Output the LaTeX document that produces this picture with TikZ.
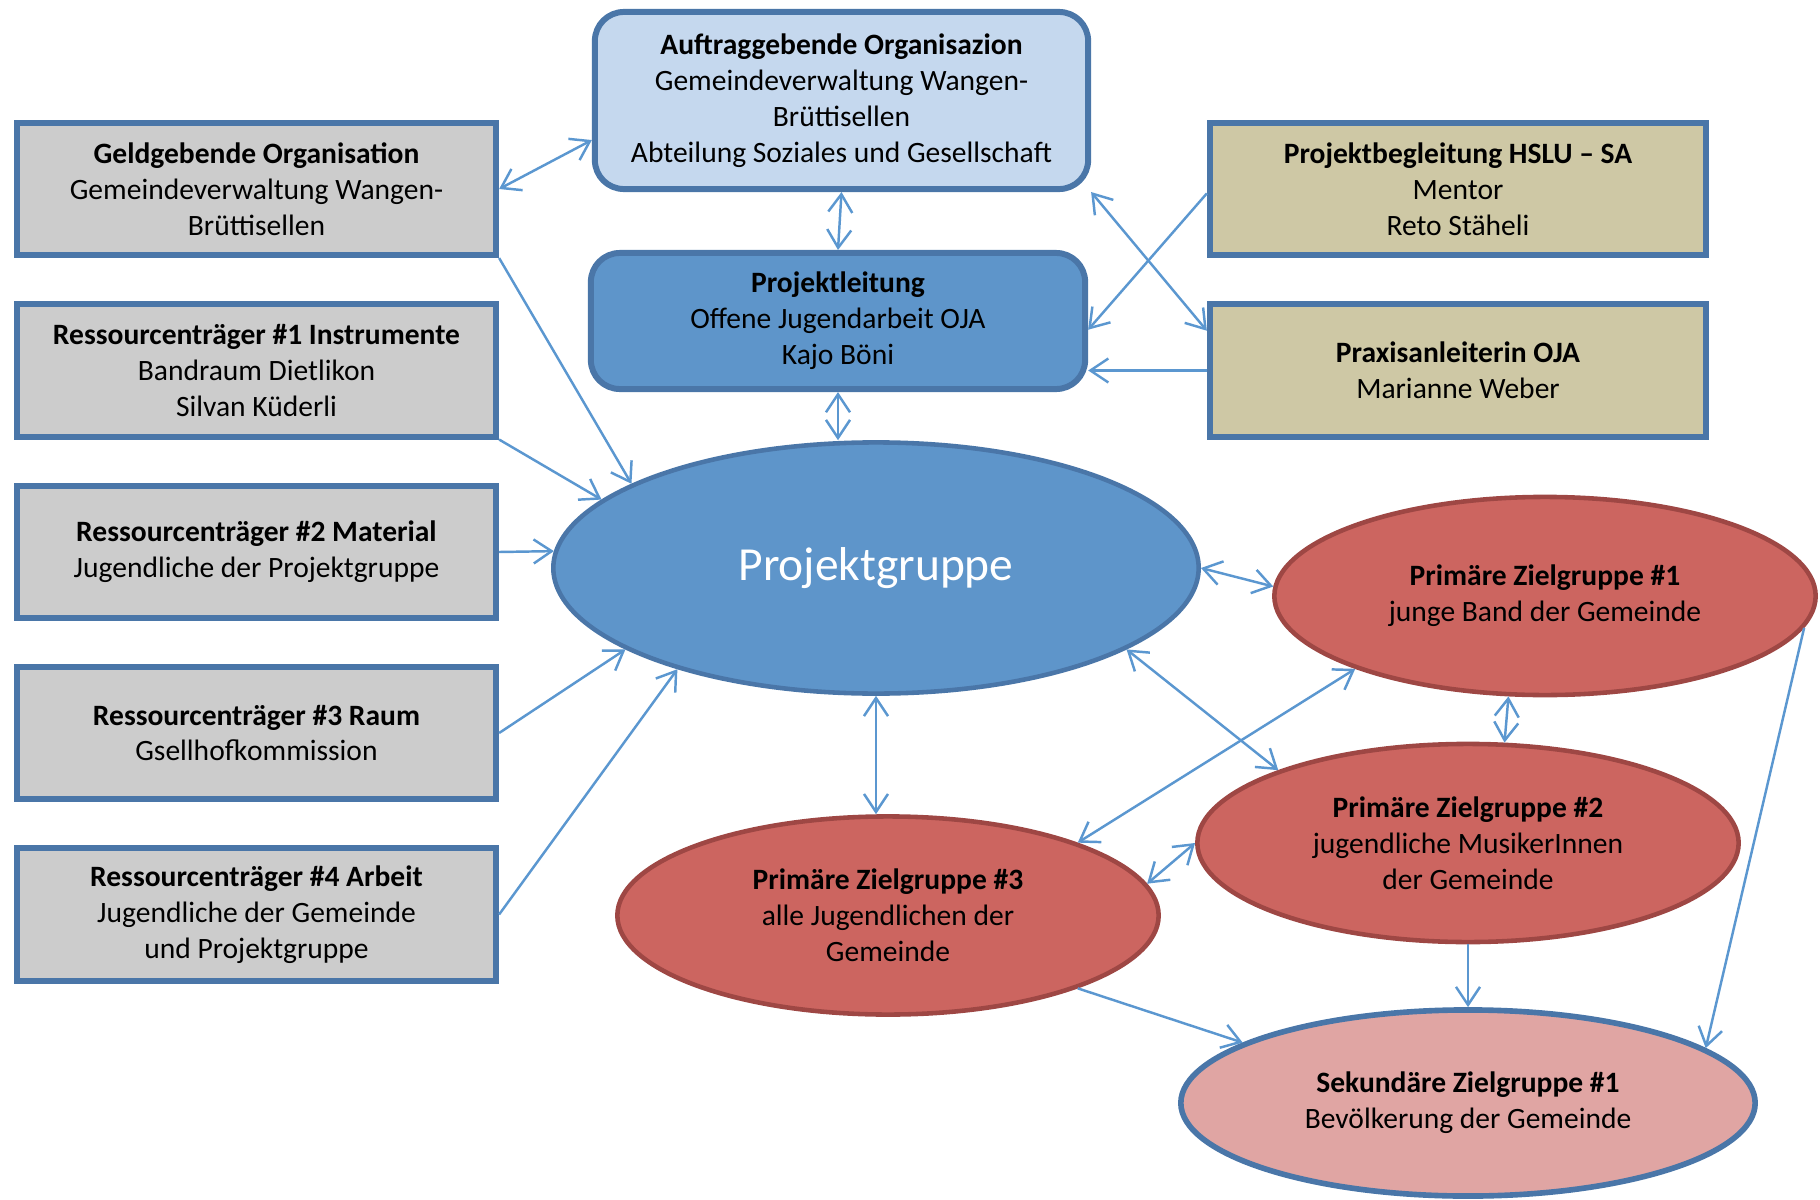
\documentclass[tikz,border=0pt]{standalone}
\usepackage{fontspec}
\setmainfont{Carlito}
\usepackage{xcolor}
\usepackage{tikz}
\usetikzlibrary{shapes.geometric,arrows.meta}
\definecolor{frameblue}{HTML}{4A76A8}
\definecolor{boxgray}{HTML}{CCCCCC}
\definecolor{boxtan}{HTML}{CEC8A5}
\definecolor{paleblue}{HTML}{C5D8EE}
\definecolor{midblue}{HTML}{5E95CA}
\definecolor{zielrot}{HTML}{CC6560}
\definecolor{zielrand}{HTML}{9E4744}
\definecolor{zielrosa}{HTML}{E0A5A3}
\definecolor{linkblue}{HTML}{5B97D0}

\begin{document}
\begin{tikzpicture}[x=0.01cm,y=-0.01cm,
    every node/.style={font=\fontsize{8.4}{10.2}\selectfont,align=center,inner sep=0pt},
    graubox/.style={draw=frameblue,line width=1.7pt,fill=boxgray,minimum width=4.79cm,minimum height=1.32cm},
    tanbox/.style={draw=frameblue,line width=1.7pt,fill=boxtan,minimum width=4.96cm,minimum height=1.32cm},
    auftragbox/.style={draw=frameblue,line width=1.7pt,fill=paleblue,rounded corners=0.29cm,minimum width=4.93cm,minimum height=1.77cm},
    leitbox/.style={draw=frameblue,line width=1.7pt,fill=midblue,rounded corners=0.29cm,minimum width=4.94cm,minimum height=1.36cm},
    gruppeell/.style={ellipse,draw=frameblue,line width=1.3pt,fill=midblue,minimum width=6.45cm,minimum height=2.51cm,
        text=white,font=\fontsize{13.5}{16}\selectfont},
    zielell/.style={ellipse,draw=zielrand,line width=1.3pt,fill=zielrot,minimum width=5.41cm,minimum height=1.98cm},
    sekell/.style={ellipse,draw=frameblue,line width=1.6pt,fill=zielrosa,minimum width=5.74cm,minimum height=1.86cm},
    link/.style={draw=linkblue,line width=0.7pt},
    >={Straight Barb[length=1.8mm,width=2.4mm]}]
    \useasboundingbox (0,0) rectangle (1820,1200);
    \node[auftragbox] (auf) at (841.5,100.5) {\textbf{Auftraggebende Organisazion}\\Gemeindeverwaltung Wangen-\\Brüttisellen\\Abteilung Soziales und Gesellschaft};
    \node[leitbox] (pl) at (838,321) {\textbf{Projektleitung}\\Offene Jugendarbeit OJA\\Kajo Böni};
    \node[graubox] (geld) at (256.5,189) {\textbf{Geldgebende Organisation}\\Gemeindeverwaltung Wangen-\\Brüttisellen};
    \node[graubox] (r1) at (256.5,370.5) {\textbf{Ressourcenträger \#1 Instrumente}\\Bandraum Dietlikon\\Silvan Küderli};
    \node[graubox] (r2) at (256.5,552) {\textbf{Ressourcenträger \#2 Material}\\Jugendliche der Projektgruppe};
    \node[graubox] (r3) at (256.5,733) {\textbf{Ressourcenträger \#3 Raum}\\Gsellhofkommission};
    \node[graubox] (r4) at (256.5,914.5) {\textbf{Ressourcenträger \#4 Arbeit}\\Jugendliche der Gemeinde\\und Projektgruppe};
    \node[tanbox] (hslu) at (1458,189) {\textbf{Projektbegleitung HSLU – SA}\\Mentor\\Reto Stäheli};
    \node[tanbox] (prax) at (1458,370.5) {\textbf{Praxisanleiterin OJA}\\Marianne Weber};
    \node[gruppeell] (pg) at (876,568) {Projektgruppe};
    \node[zielell] (p1) at (1545,596) {\textbf{Primäre Zielgruppe \#1}\\junge Band der Gemeinde};
    \node[zielell] (p2) at (1468,843) {\textbf{Primäre Zielgruppe \#2}\\jugendliche MusikerInnen\\der Gemeinde};
    \node[zielell] (p3) at (888,915.5) {\textbf{Primäre Zielgruppe \#3}\\alle Jugendlichen der\\Gemeinde};
    \node[sekell] (sek) at (1468,1103) {\textbf{Sekundäre Zielgruppe \#1}\\Bevölkerung der Gemeinde};
    \draw[link,<->] (geld.east) -- (auf.189);
    \draw[link,<->] (auf.south) -- (pl.north);
    \draw[link,<->] (auf.south east) -- (prax.171);
    \draw[link,->] (hslu.181) -- (pl.-2);
    \draw[link,->] (prax.west) -- (prax.west -| pl.east);
    \draw[link,<->] (pl.south) -- (pl.south |- pg.north);
    \draw[link,->] (geld.south east) -- (pg.161);
    \draw[link,->] (r1.south east) -- (pg.166);
    \foreach \src/\ang in {r2/177,r3/198,r4/207} \draw[link,->] (\src.east) -- (pg.\ang);
    \draw[link,<->] (pg.south) -- (pg.south |- p3.north);
    \draw[link,<->] (pg.east) -- (p1.178);
    \draw[link,<->] (pg.-18) -- (p2.159);
    \draw[link,<->] (p1.201) -- (p3.21);
    \draw[link,<->] (p1.250) -- (p2.70);
    \draw[link,<->] (p2.west) -- (p3.7);
    \draw[link,->] (p2.south) -- (sek.north);
    \draw[link,->] (p3.-21) -- (sek.165);
    \draw[link,->] (p1.-7) -- (sek.13);
\end{tikzpicture}
\end{document}
